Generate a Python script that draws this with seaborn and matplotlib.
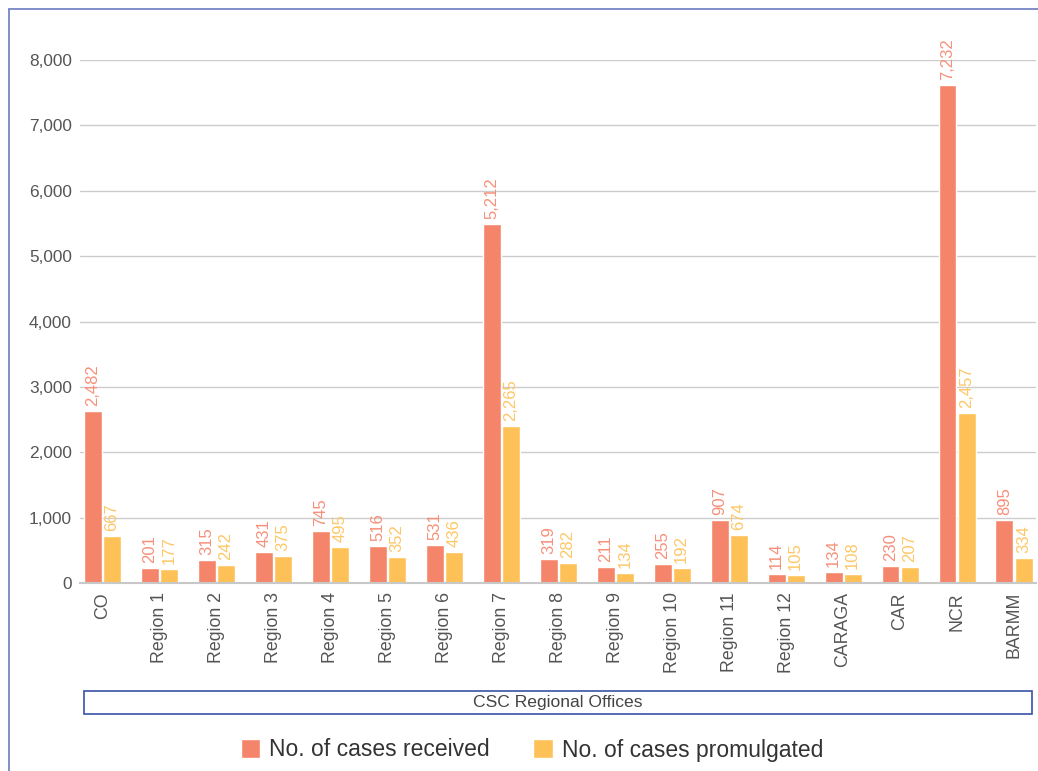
import seaborn as sns
import matplotlib.pyplot as plt
import pandas as pd
from matplotlib.patches import Rectangle
from matplotlib.lines import Line2D

# offices on the x axis
offices = ['CO', 'Region 1', 'Region 2', 'Region 3', 'Region 4', 'Region 5',
           'Region 6', 'Region 7', 'Region 8', 'Region 9', 'Region 10',
           'Region 11', 'Region 12', 'CARAGA', 'CAR', 'NCR', 'BARMM']

# printed value labels
received = [2482, 201, 315, 431, 745, 516, 531, 5212, 319, 211, 255,
            907, 114, 134, 230, 7232, 895]
promulgated = [667, 177, 242, 375, 495, 352, 436, 2265, 282, 134, 192,
               674, 105, 108, 207, 2457, 334]

# bar heights as drawn against the axis in the original
received_bar = [2634, 230, 352, 475, 796, 567, 582, 5494, 367, 245, 291,
                965, 138, 168, 260, 7617, 965]
promulgated_bar = [720, 214, 281, 419, 551, 398, 475, 2404, 306, 153, 230,
                   735, 122, 138, 245, 2603, 383]

series = ['No. of cases received', 'No. of cases promulgated']
colors = ['#F4856A', '#FEC157']
label_colors = ['#F6907A', '#FEC766']

df = pd.DataFrame({
    'office': offices * 2,
    'series': [series[0]] * len(offices) + [series[1]] * len(offices),
    'height': received_bar + promulgated_bar,
})

sns.set_theme(style='white')
plt.rcParams['font.family'] = ['Liberation Sans', 'DejaVu Sans']

W, H = 1038, 771
fig = plt.figure(figsize=(W / 100, H / 100), dpi=100)
ax = fig.add_axes([80 / W, 1 - 583 / H, (1036 - 80) / W, (583 - 60) / H])

sns.barplot(data=df, x='office', y='height', hue='series', palette=colors,
            width=0.67, gap=0.06, ax=ax, saturation=1)

ax.set_ylim(0, 8000)
ax.set_xlim(-0.395, 16.386)
ax.set_yticks(range(0, 8001, 1000))
ax.set_yticklabels([f'{v:,}' for v in range(0, 8001, 1000)])
ax.yaxis.grid(True, color='#cccccc', linewidth=1)
ax.set_axisbelow(True)
for s in ['left', 'right', 'top']:
    ax.spines[s].set_visible(False)
ax.spines['bottom'].set_color('#c8c8c8')
ax.spines['bottom'].set_linewidth(1.5)
ax.tick_params(axis='y', length=0, pad=6, labelsize=12.4, labelcolor='#555555')
ax.tick_params(axis='x', length=0, pad=6.5, labelsize=12.8, labelcolor='#555555',
               labelrotation=90)
ax.set_xlabel('')
ax.set_ylabel('')

# value labels above the bars
for cont, vals, col in zip(ax.containers, [received, promulgated], label_colors):
    ax.bar_label(cont, labels=[f'{v:,}' for v in vals], rotation=90,
                 padding=3.5, color=col, fontsize=12, clip_on=False)

handles, labels = ax.get_legend_handles_labels()
ax.get_legend().remove()
fig.legend(handles, labels, loc='center', bbox_to_anchor=(532 / W, 1 - 750 / H),
           ncol=2, frameon=False, fontsize=16.5, handlelength=0.85,
           handleheight=0.85, handletextpad=0.4, columnspacing=1.9,
           labelcolor='#333333')

# category box under the ticks
fig.patches.append(Rectangle((84 / W, 1 - 714 / H), (1032 - 84) / W, 23 / H,
                             transform=fig.transFigure, fill=False,
                             edgecolor='#3a52a8', linewidth=1.2))
fig.text(558 / W, 1 - 703 / H, 'CSC Regional Offices', ha='center', va='center',
         fontsize=12.6, color='#444444')

# outer frame
fig.lines.append(Line2D([9 / W, 9 / W], [0, 1 - 9 / H], transform=fig.transFigure,
                        color='#6b7cc0', linewidth=1.2))
fig.lines.append(Line2D([9 / W, 1], [1 - 9 / H, 1 - 9 / H], transform=fig.transFigure,
                        color='#6b7cc0', linewidth=1.2))

fig.savefig('out.png', dpi=100)
